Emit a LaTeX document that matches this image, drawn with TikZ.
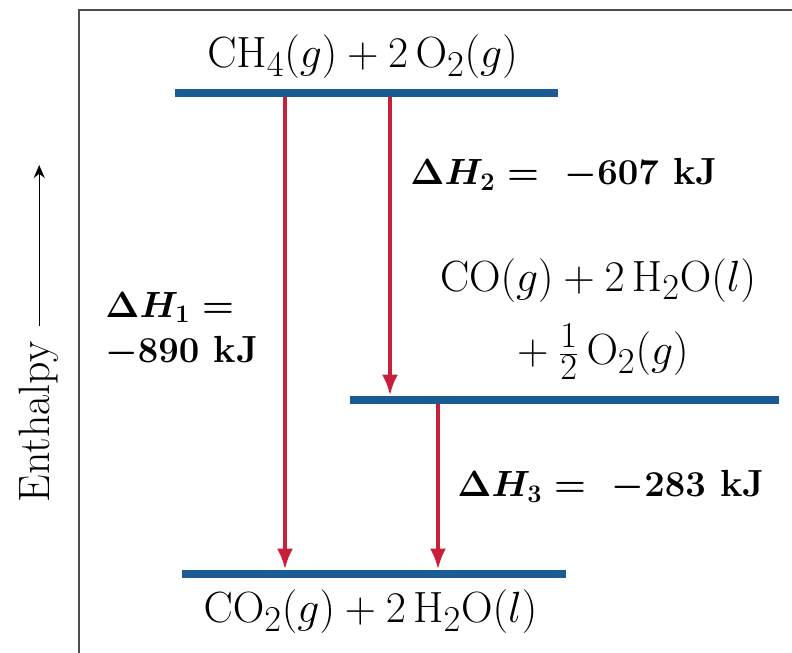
\documentclass[tikz,border=0pt]{standalone}
\usetikzlibrary{arrows.meta}
\definecolor{levelblue}{HTML}{1B5C94}
\definecolor{arrowred}{HTML}{C8203A}
\definecolor{framegray}{HTML}{4D4D4D}
\tikzset{
  levelbar/.style={
    rectangle,
    fill=levelblue,
    inner sep=0pt,
    minimum height=0.16cm
  },
  species/.style={
    inner sep=0pt,
    font=\fontsize{28}{32}\selectfont
  },
  change/.style={
    inner sep=0pt,
    font=\fontsize{21.5}{25.6}\selectfont\bfseries\boldmath
  },
  flow/.style={
    -{Latex[length=4.2mm, width=3.2mm]},
    line width=2.3pt,
    draw=arrowred
  },
  axislabel/.style={
    inner sep=0pt,
    font=\fontsize{25}{29}\selectfont
  },
  axisarrow/.style={
    -{Stealth[length=2.6mm, width=2.2mm]},
    line width=0.8pt
  },
  diagframe/.style={
    draw=framegray,
    line width=1.2pt
  }
}

\begin{document}
\begin{tikzpicture}
\useasboundingbox (0,0) rectangle (15.84,13.06);

% Frame, top and left edges only.
\coordinate (frametop) at (15.84,12.86);
\coordinate (framecorner) at (1.58,12.86);
\coordinate (framebottom) at (1.58,0);
\draw[diagframe] (frametop) -- (framecorner) -- (framebottom);

% Energy levels.
\node[levelbar, minimum width=7.66cm] (reactants) at (7.33,11.20) {};
\node[levelbar, minimum width=8.58cm] (intermediate) at (11.29,5.06) {};
\node[levelbar, minimum width=7.68cm] (products) at (7.48,1.58) {};

% Species.
\node[species, anchor=base] (reactantstext) at (7.25,11.70)
  {$\mathrm{CH_4}(g) + 2\,\mathrm{O_2}(g)$};
\node[species, anchor=north, align=center] (intermediatetext) at (11.96,7.90)
  {$\mathrm{CO}(g) + 2\,\mathrm{H_2O}(l)$\\[10pt]${}+\frac{1}{2}\,\mathrm{O_2}(g)$};
\node[species, anchor=base] (productstext) at (7.41,0.60)
  {$\mathrm{CO_2}(g) + 2\,\mathrm{H_2O}(l)$};

% Enthalpy changes.
\node[change, anchor=north west, align=left] (dhone) at (2.10,7.22)
  {$\Delta H_1 =$\\$-890$ kJ};
\node[change, anchor=base west] (dhtwo) at (8.20,9.36) {$\Delta H_2 = \ -607$ kJ};
\node[change, anchor=base west] (dhthree) at (9.14,3.12) {$\Delta H_3 = \ -283$ kJ};

% Transitions.
\coordinate (pathone) at (5.70,0);
\coordinate (pathtwo) at (7.80,0);
\coordinate (paththree) at (8.76,0);
\draw[flow] (pathone |- reactants.south) -- (pathone |- products.north);
\draw[flow] (pathtwo |- reactants.south) -- (pathtwo |- intermediate.north);
\draw[flow] (paththree |- intermediate.south) -- (paththree |- products.north);

% Enthalpy axis.
\node[axislabel, rotate=90, anchor=base] (enthalpy) at (1.00,4.62) {Enthalpy};
\coordinate (axistip) at (0.78,9.76);
\draw[axisarrow] ([yshift=0.3cm]enthalpy.east) -- (enthalpy.east |- axistip);

\end{tikzpicture}
\end{document}
